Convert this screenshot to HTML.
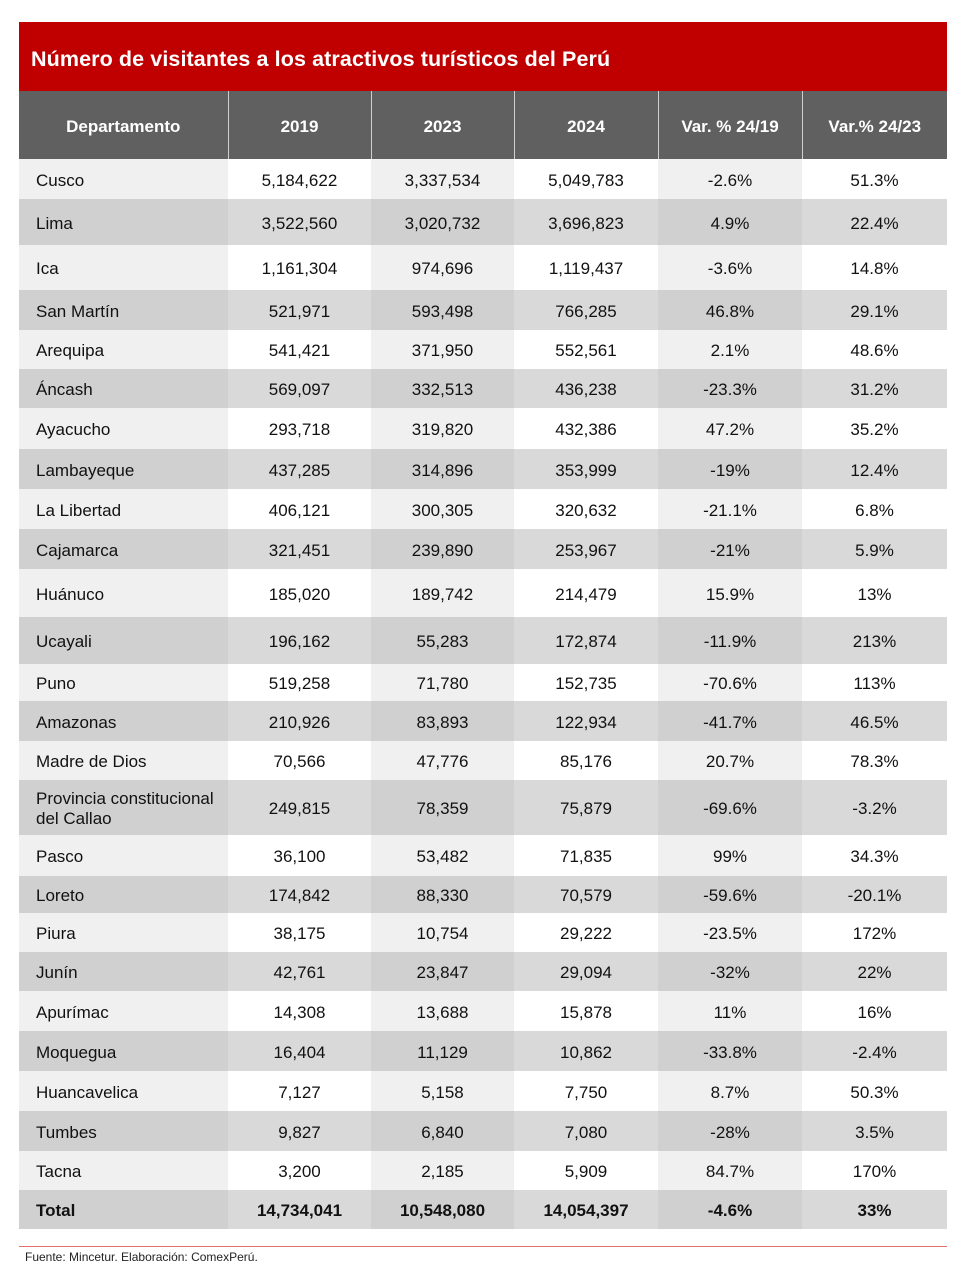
<!DOCTYPE html>
<html><head><meta charset="utf-8"><style>
body{margin:0;width:967px;height:1279px;background:#fff;position:relative;font-family:"Liberation Sans",Arial,sans-serif;overflow:hidden}
.title{position:absolute;left:19px;top:22px;width:928px;height:69px;background:#c00000;color:#fff;font-weight:bold;font-size:21.5px;line-height:74px;padding-left:12px;box-sizing:border-box;letter-spacing:0.1px}
table{position:absolute;left:19px;top:91px;border-collapse:collapse;table-layout:fixed;width:928px}
th{background:#606060;color:#fff;font-size:17px;font-weight:bold;height:68px;padding:4px 0 0 0;box-sizing:border-box;border-left:1px solid #d0d0d0}
th:first-child{border-left:none}
td{font-size:17px;color:#111;text-align:center;padding:3px 0 0 0}
td:first-child{text-align:left;padding-left:17px;line-height:20px}
tr.w td{background:#fff} tr.w td:nth-child(odd){background:#f0f0f0}
tr.g td{background:#d9d9d9} tr.g td:nth-child(odd){background:#d0d0d0}
tr.t td{font-weight:bold}
.line{position:absolute;left:19px;top:1246px;width:928px;height:1px;background:#e07070}
.src{position:absolute;left:25px;top:1250px;font-size:12px;color:#222}
</style></head><body>
<div class="title">Número de visitantes a los atractivos turísticos del Perú</div>
<table>
<colgroup><col style="width:209px"><col style="width:143px"><col style="width:143px"><col style="width:144px"><col style="width:144px"><col style="width:145px"></colgroup>
<tr><th>Departamento</th><th>2019</th><th>2023</th><th>2024</th><th>Var. % 24/19</th><th>Var.% 24/23</th></tr>
<tr class="w" style="height:40px"><td>Cusco</td><td>5,184,622</td><td>3,337,534</td><td>5,049,783</td><td>-2.6%</td><td>51.3%</td></tr>
<tr class="g" style="height:46px"><td>Lima</td><td>3,522,560</td><td>3,020,732</td><td>3,696,823</td><td>4.9%</td><td>22.4%</td></tr>
<tr class="w" style="height:45px"><td>Ica</td><td>1,161,304</td><td>974,696</td><td>1,119,437</td><td>-3.6%</td><td>14.8%</td></tr>
<tr class="g" style="height:40px"><td>San Martín</td><td>521,971</td><td>593,498</td><td>766,285</td><td>46.8%</td><td>29.1%</td></tr>
<tr class="w" style="height:39px"><td>Arequipa</td><td>541,421</td><td>371,950</td><td>552,561</td><td>2.1%</td><td>48.6%</td></tr>
<tr class="g" style="height:39px"><td>Áncash</td><td>569,097</td><td>332,513</td><td>436,238</td><td>-23.3%</td><td>31.2%</td></tr>
<tr class="w" style="height:41px"><td>Ayacucho</td><td>293,718</td><td>319,820</td><td>432,386</td><td>47.2%</td><td>35.2%</td></tr>
<tr class="g" style="height:40px"><td>Lambayeque</td><td>437,285</td><td>314,896</td><td>353,999</td><td>-19%</td><td>12.4%</td></tr>
<tr class="w" style="height:40px"><td>La Libertad</td><td>406,121</td><td>300,305</td><td>320,632</td><td>-21.1%</td><td>6.8%</td></tr>
<tr class="g" style="height:40px"><td>Cajamarca</td><td>321,451</td><td>239,890</td><td>253,967</td><td>-21%</td><td>5.9%</td></tr>
<tr class="w" style="height:48px"><td>Huánuco</td><td>185,020</td><td>189,742</td><td>214,479</td><td>15.9%</td><td>13%</td></tr>
<tr class="g" style="height:47px"><td>Ucayali</td><td>196,162</td><td>55,283</td><td>172,874</td><td>-11.9%</td><td>213%</td></tr>
<tr class="w" style="height:37px"><td>Puno</td><td>519,258</td><td>71,780</td><td>152,735</td><td>-70.6%</td><td>113%</td></tr>
<tr class="g" style="height:40px"><td>Amazonas</td><td>210,926</td><td>83,893</td><td>122,934</td><td>-41.7%</td><td>46.5%</td></tr>
<tr class="w" style="height:39px"><td>Madre de Dios</td><td>70,566</td><td>47,776</td><td>85,176</td><td>20.7%</td><td>78.3%</td></tr>
<tr class="g" style="height:55px"><td>Provincia constitucional del Callao</td><td>249,815</td><td>78,359</td><td>75,879</td><td>-69.6%</td><td>-3.2%</td></tr>
<tr class="w" style="height:41px"><td>Pasco</td><td>36,100</td><td>53,482</td><td>71,835</td><td>99%</td><td>34.3%</td></tr>
<tr class="g" style="height:37px"><td>Loreto</td><td>174,842</td><td>88,330</td><td>70,579</td><td>-59.6%</td><td>-20.1%</td></tr>
<tr class="w" style="height:39px"><td>Piura</td><td>38,175</td><td>10,754</td><td>29,222</td><td>-23.5%</td><td>172%</td></tr>
<tr class="g" style="height:39px"><td>Junín</td><td>42,761</td><td>23,847</td><td>29,094</td><td>-32%</td><td>22%</td></tr>
<tr class="w" style="height:40px"><td>Apurímac</td><td>14,308</td><td>13,688</td><td>15,878</td><td>11%</td><td>16%</td></tr>
<tr class="g" style="height:40px"><td>Moquegua</td><td>16,404</td><td>11,129</td><td>10,862</td><td>-33.8%</td><td>-2.4%</td></tr>
<tr class="w" style="height:40px"><td>Huancavelica</td><td>7,127</td><td>5,158</td><td>7,750</td><td>8.7%</td><td>50.3%</td></tr>
<tr class="g" style="height:40px"><td>Tumbes</td><td>9,827</td><td>6,840</td><td>7,080</td><td>-28%</td><td>3.5%</td></tr>
<tr class="w" style="height:39px"><td>Tacna</td><td>3,200</td><td>2,185</td><td>5,909</td><td>84.7%</td><td>170%</td></tr>
<tr class="g t" style="height:39px"><td>Total</td><td>14,734,041</td><td>10,548,080</td><td>14,054,397</td><td>-4.6%</td><td>33%</td></tr>
</table>
<div class="line"></div>
<div class="src">Fuente: Mincetur. Elaboración: ComexPerú.</div>
</body></html>
